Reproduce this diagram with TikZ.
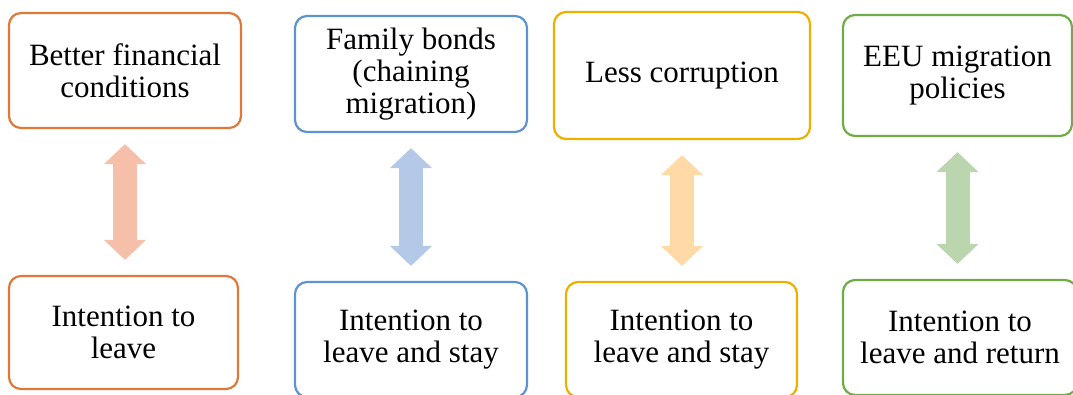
\documentclass[tikz,border=0pt]{standalone}
\usepackage{fontspec}
\setmainfont{Liberation Serif}
\usetikzlibrary{arrows.meta}
\definecolor{orB}{HTML}{E0783A}
\definecolor{blB}{HTML}{5F93CF}
\definecolor{goB}{HTML}{EBB000}
\definecolor{grB}{HTML}{6FAC46}
\definecolor{orA}{HTML}{F5BFA9}
\definecolor{blA}{HTML}{B4C8E7}
\definecolor{goA}{HTML}{FFD9A6}
\definecolor{grA}{HTML}{BBD5AE}
\tikzset{
  box/.style={draw, line width=2.2pt, rounded corners=12pt, fill=white,
    align=center, inner sep=0pt, font=\fontsize{31}{32}\selectfont},
  dbl/.style={line width=24pt,
    {Triangle[width=41pt,length=20pt]}-{Triangle[width=41pt,length=20pt]},
    shorten <=15pt, shorten >=15pt}
}
\begin{document}
\begin{tikzpicture}[x=1pt,y=-1pt]
\useasboundingbox (0,0) rectangle (1073,394);
\clip (0,0) rectangle (1073,394);
% top row
\node[box, draw=orB, minimum width=232pt, minimum height=115pt] (t1) at (125,70.5) {Better financial\\conditions};
\node[box, draw=blB, minimum width=232pt, minimum height=116pt] (t2) at (411,74) {Family bonds\\(chaining\\migration)};
\node[box, draw=goB, minimum width=256pt, minimum height=127pt] (t3) at (682,75.5) {Less corruption};
\node[box, draw=grB, minimum width=229pt, minimum height=121pt] (t4) at (957.5,75.5) {EEU migration\\policies};
% bottom row
\node[box, draw=orB, minimum width=229pt, minimum height=113pt] (b1) at (123.5,332.5) {Intention to\\leave};
\node[box, draw=blB, minimum width=232pt, minimum height=115pt] (b2) at (411,339.5) {Intention to\\leave and stay};
\node[box, draw=goB, minimum width=231pt, minimum height=115pt] (b3) at (681.5,339.5) {Intention to\\leave and stay};
\node[box, draw=grB, minimum width=234pt, minimum height=115pt] (b4) at (960,337.5) {Intention to\\leave and return};
% arrows
\draw[dbl, draw=orA, fill=orA] (t1.south) -- (t1.south |- b1.north);
\draw[dbl, draw=blA, fill=blA] (t2.south) -- (t2.south |- b2.north);
\draw[dbl, draw=goA, fill=goA] (t3.south) -- (t3.south |- b3.north);
\draw[dbl, draw=grA, fill=grA] (t4.south) -- (t4.south |- b4.north);
\end{tikzpicture}
\end{document}
